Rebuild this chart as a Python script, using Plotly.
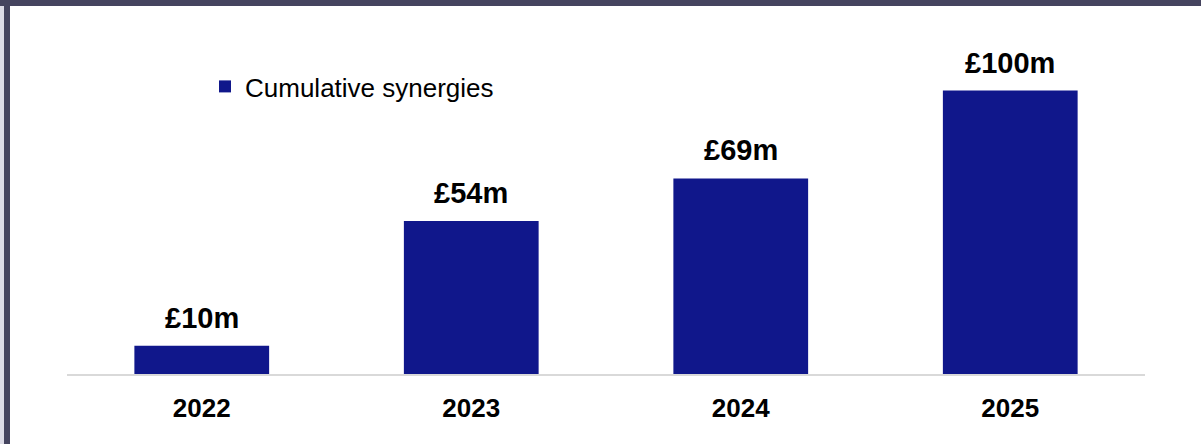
import plotly.graph_objects as go

# Cumulative synergy delivery by year (£m)
years = ["2022", "2023", "2024", "2025"]
synergies = [10, 54, 69, 100]
value_labels = ["£10m", "£54m", "£69m", "£100m"]
series_name = "Cumulative synergies"

W, H = 1201, 444
M_L, M_R, M_T, M_B = 67, 56, 20, 70
BAR_COLOR = "#10178b"
FRAME_COLOR = "#45445f"
FONT = "Liberation Sans, Arial, sans-serif"

plot_w = W - M_L - M_R
plot_h = H - M_T - M_B


def px_x(px):
    return (px - M_L) / plot_w


def px_y(py):
    return (H - M_B - py) / plot_h


fig = go.Figure()
fig.add_trace(go.Bar(
    x=years,
    y=synergies,
    name=series_name,
    marker=dict(color=BAR_COLOR, line=dict(width=0)),
    width=0.5,
    showlegend=True,
))

# value labels above each bar (x given as category index)
for idx, (val, lab) in enumerate(zip(synergies, value_labels)):
    fig.add_annotation(
        x=idx, y=val, text=f"<b>{lab}</b>", showarrow=False,
        yanchor="bottom", yshift=10,
        font=dict(family=FONT, size=29, color="#000000"),
    )

# frame bands along top and left edges
fig.add_shape(type="rect", xref="paper", yref="paper",
              x0=px_x(0), x1=px_x(W), y0=px_y(6), y1=px_y(-2),
              fillcolor=FRAME_COLOR, line=dict(width=0), layer="above")
fig.add_shape(type="rect", xref="paper", yref="paper",
              x0=px_x(0), x1=px_x(4), y0=px_y(H + 2), y1=px_y(6),
              fillcolor="#dcdbe6", line=dict(width=0), layer="above")
fig.add_shape(type="rect", xref="paper", yref="paper",
              x0=px_x(4), x1=px_x(10), y0=px_y(H + 2), y1=px_y(6),
              fillcolor=FRAME_COLOR, line=dict(width=0), layer="above")

fig.update_layout(
    width=W, height=H,
    margin=dict(l=M_L, r=M_R, t=M_T, b=M_B),
    paper_bgcolor="#ffffff",
    plot_bgcolor="#ffffff",
    font=dict(family=FONT, color="#000000"),
    bargap=0.5,
    legend=dict(
        x=px_x(205), y=px_y(63), xanchor="left", yanchor="top",
        font=dict(family=FONT, size=26, color="#000000"),
        bgcolor="rgba(0,0,0,0)",
        itemsizing="constant",
    ),
    xaxis=dict(
        type="category",
        range=[-0.5, len(years) - 0.5], autorange=False,
        showline=True, linecolor="#d9d9d9", linewidth=1.5,
        showgrid=False, zeroline=False,
        ticks="", ticklabelstandoff=10,
        tickfont=dict(family=FONT, size=26, color="#000000", weight="bold"),
        fixedrange=True,
    ),
    yaxis=dict(
        range=[0, plot_h / 283.5 * 100], autorange=False,
        visible=False, showgrid=False, zeroline=False,
        fixedrange=True,
    ),
)

fig.write_html("out.html")
